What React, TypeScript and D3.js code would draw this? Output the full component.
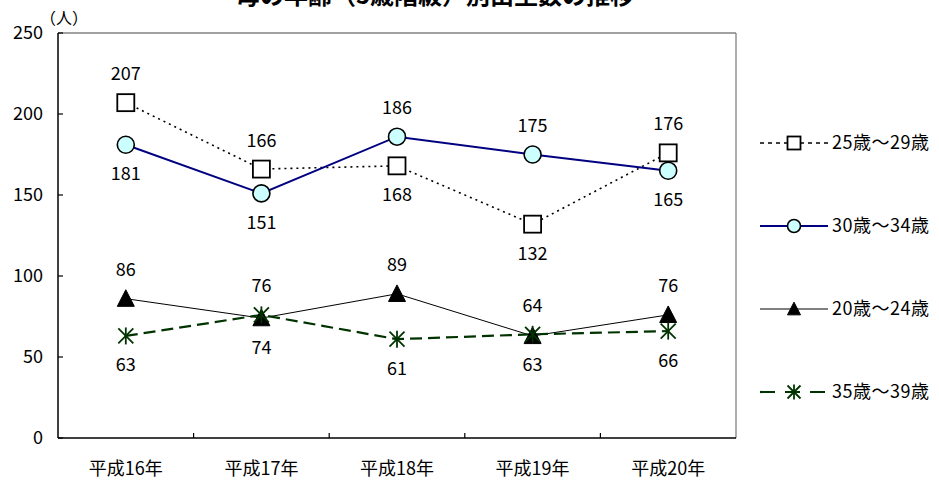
import React from "react";
import * as d3 from "d3";

const title = "母の年齢（5歳階級）別出生数の推移";
const unitLabel = "（人）";
const categories = ["平成16年", "平成17年", "平成18年", "平成19年", "平成20年"];
const yTicks = [0, 50, 100, 150, 200, 250];

const age25_29 = [207, 166, 168, 132, 176];
const age30_34 = [181, 151, 186, 175, 165];
const age20_24 = [86, 74, 89, 63, 76];
const age35_39 = [63, 76, 61, 64, 66];

type Marker = "square" | "circle" | "triangle" | "asterisk";
interface Series {
  name: string;
  values: number[];
  color: string;
  width: number;
  dash?: string;
  legendDash?: string;
  marker: Marker;
  fill: string;
}

const series: Series[] = [
  { name: "25歳〜29歳", values: age25_29, color: "#000", width: 1.6, dash: "2,4", legendDash: "4,4", marker: "square", fill: "#fff" },
  { name: "30歳〜34歳", values: age30_34, color: "#000080", width: 2, marker: "circle", fill: "#ccffff" },
  { name: "20歳〜24歳", values: age20_24, color: "#000", width: 1, marker: "triangle", fill: "#000" },
  { name: "35歳〜39歳", values: age35_39, color: "#003300", width: 2.2, dash: "12,6", legendDash: "15,10", marker: "asterisk", fill: "none" },
];

// pairs for label placement (higher value labelled above, lower below)
const pairs: [number, number][] = [[0, 1], [2, 3]];

const W = 939, H = 481;
const m = { left: 58, right: 736, top: 33, bottom: 438 };
const FONT = "'Noto Sans CJK JP', 'Liberation Sans', sans-serif";

function MarkerShape({ type, x, y, s, color, fill }: { type: Marker; x: number; y: number; s: number; color: string; fill: string }) {
  const h = s / 2;
  if (type === "square") return <rect x={x - h} y={y - h} width={s} height={s} fill={fill} stroke={color} strokeWidth={1.8} />;
  if (type === "circle") return <circle cx={x} cy={y} r={h} fill={fill} stroke="#000" strokeWidth={1.6} />;
  if (type === "triangle") return <path d={`M${x},${y - h * 1.05}L${x + h},${y + h * 0.9}L${x - h},${y + h * 0.9}Z`} fill={fill} stroke="#000" strokeWidth={1} />;
  return (
    <g stroke={color} strokeWidth={1.8}>
      <line x1={x - h} y1={y - h} x2={x + h} y2={y + h} />
      <line x1={x - h} y1={y + h} x2={x + h} y2={y - h} />
      <line x1={x} y1={y - h - 1} x2={x} y2={y + h + 1} />
    </g>
  );
}

export default function App() {
  const x = d3.scaleBand<string>().domain(categories).range([m.left, m.right]);
  const y = d3.scaleLinear().domain([0, 250]).range([m.bottom, m.top]);
  const cx = (c: string) => (x(c) as number) + x.bandwidth() / 2;
  const line = (vals: number[]) =>
    d3.line<number>().x((_, i) => cx(categories[i])).y((v) => y(v))(vals) as string;

  const above: boolean[][] = series.map(() => categories.map(() => true));
  pairs.forEach(([a, b]) => {
    categories.forEach((_, i) => {
      const hiA = series[a].values[i] >= series[b].values[i];
      above[a][i] = hiA;
      above[b][i] = !hiA;
    });
  });

  const legendX0 = 760, legendX1 = 828, legendMid = 794, legendTextX = 832;
  const legendY = [143, 226, 309, 392];

  return (
    <div style={{ position: "absolute", left: 0, top: 0 }}>
      <svg width={W} height={H} style={{ display: "block", background: "#fff" }} fontFamily={FONT}>
        <rect width={W} height={H} fill="#fff" />
        <text x={435} y={4} fontSize={24} fontWeight="bold" textAnchor="middle">{title}</text>
        <text x={64} y={18} dy="0.36em" fontSize={16} textAnchor="middle">{unitLabel}</text>

        {/* frame */}
        <line x1={m.left} x2={m.right} y1={m.top} y2={m.top} stroke="#444" strokeWidth={1.2} />
        <line x1={m.right} x2={m.right} y1={m.top} y2={m.bottom} stroke="#777" strokeWidth={1.2} />
        <line x1={m.left} x2={m.left} y1={m.top} y2={m.bottom} stroke="#000" strokeWidth={1.5} />
        <line x1={m.left} x2={m.right} y1={m.bottom} y2={m.bottom} stroke="#000" strokeWidth={1.5} />

        {yTicks.map((t) => (
          <g key={t}>
            <line x1={m.left} x2={m.left + 5} y1={y(t)} y2={y(t)} stroke="#000" strokeWidth={1.2} />
            <text x={43} y={y(t)} dy="0.36em" fontSize={18} textAnchor="end">{t}</text>
          </g>
        ))}
        {categories.slice(1).map((c) => (
          <line key={c} x1={x(c) as number} x2={x(c) as number} y1={m.bottom} y2={m.bottom - 5} stroke="#000" strokeWidth={1.2} />
        ))}
        {categories.map((c) => (
          <text key={c} x={cx(c)} y={469} dy="0.36em" fontSize={18} textAnchor="middle">{c}</text>
        ))}

        {series.map((s) => (
          <path key={s.name} d={line(s.values)} fill="none" stroke={s.color} strokeWidth={s.width} strokeDasharray={s.dash} />
        ))}
        {series.map((s) => (
          <g key={s.name + "m"}>
            {s.values.map((v, i) => (
              <MarkerShape key={i} type={s.marker} x={cx(categories[i])} y={y(v)} s={s.marker === "asterisk" ? 15 : 17} color={s.color} fill={s.fill} />
            ))}
          </g>
        ))}
        {series.map((s, si) => (
          <g key={s.name + "l"}>
            {s.values.map((v, i) => (
              <text key={i} x={cx(categories[i])} y={y(v) + (above[si][i] ? -29 : 29)} dy="0.36em" fontSize={18} textAnchor="middle">{v}</text>
            ))}
          </g>
        ))}

        {series.map((s, i) => (
          <g key={s.name + "leg"}>
            <line x1={legendX0} x2={legendX1} y1={legendY[i]} y2={legendY[i]} stroke={s.color} strokeWidth={s.width} strokeDasharray={s.legendDash} />
            <MarkerShape type={s.marker} x={legendMid} y={legendY[i]} s={13} color={s.color} fill={s.fill} />
            <text x={legendTextX} y={legendY[i]} dy="0.36em" fontSize={18} letterSpacing={0.5}>{s.name}</text>
          </g>
        ))}
      </svg>
    </div>
  );
}
